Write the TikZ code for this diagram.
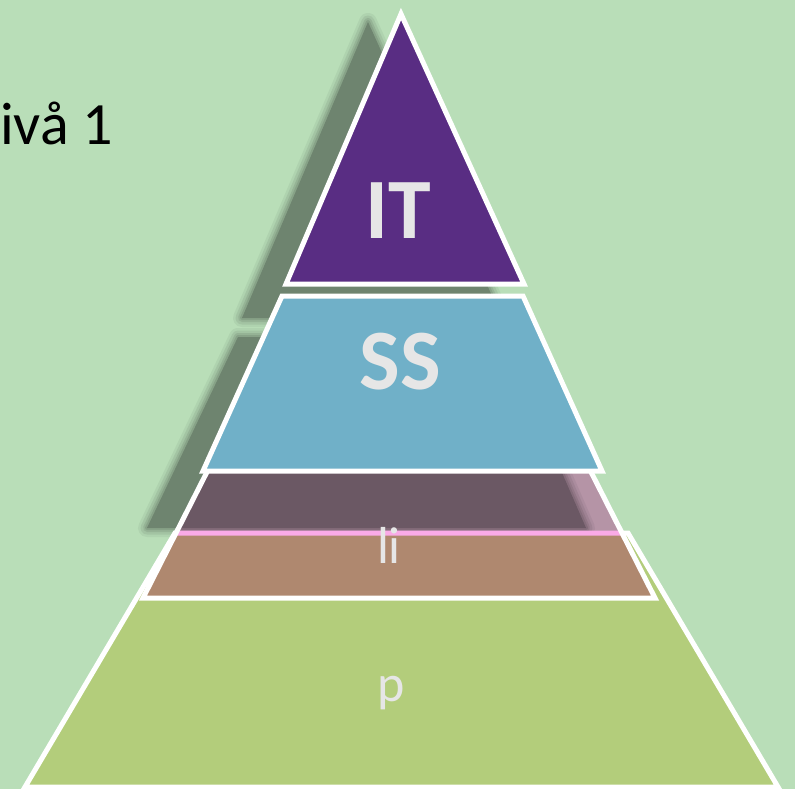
\documentclass[tikz,border=0pt]{standalone}
\usepackage{fontspec}
\setmainfont{Carlito}
\usepackage{xcolor}
\usetikzlibrary{positioning}

\definecolor{bggreen}{RGB}{185,222,184}
\definecolor{shadowgreen}{RGB}{110,132,111}
\definecolor{itpurple}{RGB}{89,45,131}
\definecolor{ssblue}{RGB}{112,176,200}
\definecolor{lipink}{RGB}{250,170,231}
\definecolor{pgreen}{RGB}{179,205,123}
\definecolor{labelgray}{RGB}{230,230,230}

\begin{document}
\begin{tikzpicture}[x=1pt, y=-1pt,
    layer/.style={draw=white, line width=5pt},
    bigtext/.style={text=labelgray, inner sep=0pt, font=\fontsize{86}{86}\selectfont\bfseries},
    smalltext/.style={text=labelgray, inner sep=0pt, font=\fontsize{52}{52}\selectfont}]
    % Background
    \fill[bggreen] (0,0) rectangle (795,789);
    \useasboundingbox (0,0) rectangle (795,789);

    % Shadows
    \fill[shadowgreen] (368,22) -- (242,318) -- (502,318) -- cycle;
    \fill[shadowgreen] (238,337) -- (503,337) -- (586,528) -- (147,528) -- cycle;
    \foreach \w/\o in {18/0.12, 13/0.18, 8/0.25, 4/0.35} {
        \draw[shadowgreen, line width=\w pt, opacity=\o, line join=round]
            (368,22) -- (242,318) -- (502,318) -- cycle;
        \draw[shadowgreen, line width=\w pt, opacity=\o, line join=round]
            (238,337) -- (503,337) -- (586,528) -- (147,528) -- cycle;
    }

    % Layers
    \draw[layer, fill=pgreen] (175,533) -- (628,533) -- (778,787) -- (25,787) -- cycle;
    \begin{scope}[blend mode=multiply]
        \fill[lipink] (208,470) -- (590,470) -- (655,598) -- (143,598) -- cycle;
    \end{scope}
    \draw[layer] (208,470) -- (590,470) -- (655,598) -- (143,598) -- cycle;
    \draw[layer, fill=ssblue] (282,296) -- (523,296) -- (602,471) -- (203,471) -- cycle;
    \draw[layer, fill=itpurple] (401,14) -- (524,284) -- (286,284) -- cycle;

    % Labels
    \node[bigtext] (it) at (398,211) {IT};
    \node[bigtext] (ss) at (400,362) {SS};
    \node[smalltext] (li) at (389,545) {li};
    \node[smalltext] (p) at (391,693) {p};
    \node[anchor=base west, inner sep=0pt, font=\fontsize{60}{60}\selectfont] (level) at (0,145) {ivå 1};
\end{tikzpicture}
\end{document}
